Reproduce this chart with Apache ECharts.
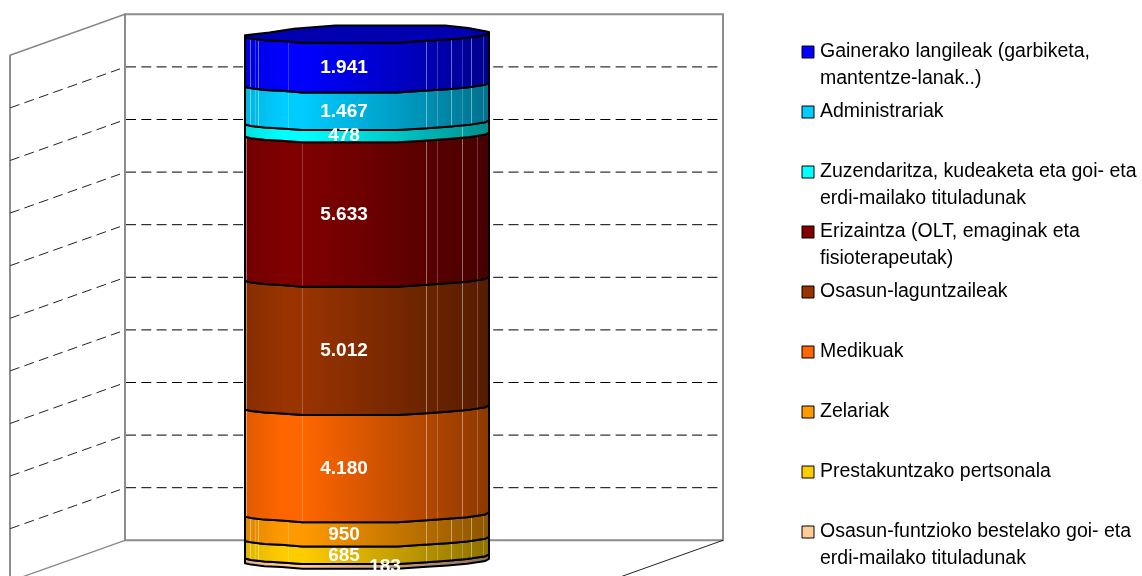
<!DOCTYPE html>
<html>
<head>
<meta charset="utf-8">
<style>html,body{margin:0;padding:0;background:#fff}#main{width:1142px;height:576px}</style>
<script src="https://cdn.jsdelivr.net/npm/echarts@6/dist/echarts.min.js"></script>
</head>
<body>
<div id="main"></div>
<script>
// Staff groups, listed from the bottom of the cylinder to the top
const categories = [''];
const groupNames = [
  'Osasun-funtzioko bestelako goi- eta\nerdi-mailako tituladunak',
  'Prestakuntzako pertsonala',
  'Zelariak',
  'Medikuak',
  'Osasun-laguntzaileak',
  'Erizaintza (OLT, emaginak eta\nfisioterapeutak)',
  'Zuzendaritza, kudeaketa eta goi- eta\nerdi-mailako tituladunak',
  'Administrariak',
  'Gainerako langileak (garbiketa,\nmantentze-lanak..)'
];
const groupValues = [183, 685, 950, 4180, 5012, 5633, 478, 1467, 1941];
const groupColors = ['#FFCC99', '#FFCC00', '#FF9900', '#FF6600', '#993300', '#800000', '#00FFFF', '#00CCFF', '#0000FF'];

// Legend rows run top to bottom, centre of each row's first line
const legendCentres = [532, 472, 412, 352, 292, 232, 172, 112, 52];

// Facet highlights on the cylinder wall, as fractions of its half width
const facetsFine = [-0.96, -0.92, -0.89, -0.65, 0.48, 0.57, 0.69, 0.78, 0.85, 0.95];
const facetsWide = [-0.99, -0.53, 0.48, 0.57, 0.78, 0.90];
const groupFacets = [[], facetsFine, facetsFine, facetsWide, facetsWide, facetsWide, [0.78], facetsFine, facetsFine];

// Oblique projection of the 3D box
const DEPTH_X = -115, DEPTH_Y = 41;
const CYL_DX = -57, CYL_DY = 28.5, CYL_HALF = 122;

// Rim of the cylinder: [fraction of half width, rise above the lowest point]
const rimFront = [[-1, 5.6], [-0.95, 4.2], [-0.84, 2.6], [-0.7, 1.7], [-0.53, 0], [0.25, 0], [0.46, 1.7], [0.66, 3.4], [0.82, 5], [0.97, 7.8], [1, 10]];
const rimBack = [[1, 10.7], [0.97, 11.5], [0.83, 14.8], [0.64, 17.3], [-0.26, 17.3], [-0.6, 14], [-0.8, 10.3], [-1, 7.5]];
const capColor = '#0000B0';

const total = groupValues.reduce((a, b) => a + b, 0);
const gridTicks = [];
for (let i = 1; i < 10; i++) gridTicks.push(total * i / 10);

const starts = [];
groupValues.reduce((sum, v, i) => { starts[i] = sum; return sum + v; }, 0);

function shade(hex, k) {
  const n = parseInt(hex.slice(1), 16);
  const c = [n >> 16, (n >> 8) & 255, n & 255].map(x => Math.round(x * k));
  return 'rgb(' + c.join(',') + ')';
}
function formatValue(v) {
  if (v < 1000) return String(v);
  const rest = String(v % 1000).padStart(3, '0');
  return Math.floor(v / 1000) + '.' + rest;
}
function rimPoints(rim, cx, y) {
  return rim.map(p => [cx + p[0] * CYL_HALF, y - p[1]]);
}
function wallGradient(color) {
  return new echarts.graphic.LinearGradient(0, 0, 1, 0, [
    { offset: 0, color: shade(color, 0.88) },
    { offset: 0.16, color: shade(color, 1) },
    { offset: 0.24, color: shade(color, 1) },
    { offset: 1, color: shade(color, 0.55) }
  ]);
}

const main = echarts.init(document.getElementById('main'), null, { renderer: 'canvas' });

function renderWalls(params, api) {
  const top = api.coord([0, total]);
  const floor = api.coord([0, 0]);
  const cs = params.coordSys;
  const left = cs.x, right = cs.x + cs.width;
  const children = [];
  const seg = (x1, y1, x2, y2, stroke, lineWidth, lineDash) => children.push({
    type: 'line', silent: true,
    shape: { x1, y1, x2, y2 },
    style: { stroke, lineWidth, lineDash: lineDash || null, fill: null }
  });
  gridTicks.forEach(t => {
    const y = api.coord([0, t])[1];
    seg(left + 1, y, right - 1, y, '#000', 1, [10, 5.3]);
    seg(left + DEPTH_X, y + DEPTH_Y, left - 5, y + 2, '#222', 1, [10, 5.3]);
  });
  seg(left, top[1], left + DEPTH_X, top[1] + DEPTH_Y, '#888', 1.5);
  seg(left + DEPTH_X, top[1] + DEPTH_Y, left + DEPTH_X, floor[1] + DEPTH_Y, '#444', 1.2);
  seg(left, floor[1], left + DEPTH_X, floor[1] + DEPTH_Y, '#888', 1.3);
  seg(right, floor[1], right + DEPTH_X, floor[1] + DEPTH_Y, '#222', 1);
  return { type: 'group', children };
}

function renderSegment(params, api) {
  const i = params.seriesIndex - 1;
  const lo = api.coord([0, api.value(1)]);
  const hi = api.coord([0, api.value(2)]);
  const cx = lo[0] + CYL_DX;
  const upper = rimPoints(rimFront, cx, hi[1] + CYL_DY);
  const lower = rimPoints(rimFront, cx, lo[1] + CYL_DY).reverse();
  const children = [{
    type: 'polygon', silent: true,
    shape: { points: upper.concat(lower) },
    style: { fill: wallGradient(groupColors[i]), stroke: '#000', lineWidth: 2, lineJoin: 'round' }
  }];
  const rise = u => {
    for (let k = 1; k < rimFront.length; k++) {
      if (u <= rimFront[k][0]) {
        const a = rimFront[k - 1], b = rimFront[k];
        return a[1] + (b[1] - a[1]) * (u - a[0]) / (b[0] - a[0]);
      }
    }
    return 0;
  };
  groupFacets[i].forEach((u, k) => {
    const x = Math.round(cx + u * CYL_HALF) + 0.5;
    children.push({
      type: 'line', silent: true,
      shape: { x1: x, y1: hi[1] + CYL_DY - rise(u) + 1, x2: x, y2: lo[1] + CYL_DY - rise(u) - 1 },
      style: { stroke: 'rgba(255,255,255,' + (k % 2 ? 0.22 : 0.42) + ')', lineWidth: 1 }
    });
  });
  if (i === groupValues.length - 1) {
    const front = rimPoints(rimFront, cx, hi[1] + CYL_DY);
    const back = rimPoints(rimBack, cx, hi[1] + CYL_DY);
    children.push({
      type: 'polygon', silent: true,
      shape: { points: front.concat(back) },
      style: { fill: capColor, stroke: '#000', lineWidth: 2, lineJoin: 'round' }
    });
  }
  return { type: 'group', children };
}

// The thinnest slice carries its label further right, off the centre line
function renderLabel(params, api) {
  const v = api.value(3);
  const mid = api.coord([0, api.value(1) + v / 2]);
  const shift = v < 300 ? 18 : -23;
  return {
    type: 'text', silent: true,
    style: {
      text: formatValue(v),
      x: mid[0] + CYL_DX + shift,
      y: mid[1] + CYL_DY,
      fill: '#fff',
      font: 'bold 19px "Liberation Sans", Arial, sans-serif',
      align: 'center',
      verticalAlign: 'middle'
    }
  };
}

const segmentSeries = groupNames.map((name, i) => ({
  type: 'custom',
  name,
  renderItem: renderSegment,
  itemStyle: { color: groupColors[i] },
  data: [[0, starts[i], starts[i] + groupValues[i], groupValues[i]]],
  z: 3,
  silent: true
}));

const legends = groupNames.map((name, i) => {
  const lines = name.includes('\n') ? 3 : 1;
  return {
    left: 801.5,
    top: legendCentres[i] - lines * 27 / 2,
    padding: 0,
    selectedMode: false,
    itemWidth: 12,
    itemHeight: 12,
    icon: 'rect',
    data: [{ name, icon: 'rect', itemStyle: { color: groupColors[i], borderColor: '#000', borderWidth: 1 } }],
    // A blank first line keeps the swatch level with the first line of wrapped names
    formatter: n => (n.includes('\n') ? ' \n' + n : n),
    textStyle: {
      fontFamily: '"Liberation Sans", Arial, sans-serif',
      fontSize: 19.5,
      color: '#000',
      lineHeight: 27,
      padding: [0, 0, 0, 1]
    }
  };
});

main.setOption({
  animation: false,
  backgroundColor: '#fff',
  grid: { left: 125, right: 419, top: 14.3, bottom: 35.7, show: true, borderColor: '#8c8c8c', borderWidth: 2, backgroundColor: 'transparent' },
  xAxis: { type: 'category', data: categories, show: false },
  yAxis: { type: 'value', min: 0, max: total, interval: total / 10, show: false },
  legend: legends,
  series: [
    { type: 'custom', name: 'walls', renderItem: renderWalls, data: [[0]], z: 1, silent: true }
  ].concat(segmentSeries, [
    {
      type: 'custom', name: 'values', renderItem: renderLabel, z: 5, silent: true,
      data: groupValues.map((v, i) => [0, starts[i], starts[i] + v, v])
    }
  ])
});
</script>
</body>
</html>
